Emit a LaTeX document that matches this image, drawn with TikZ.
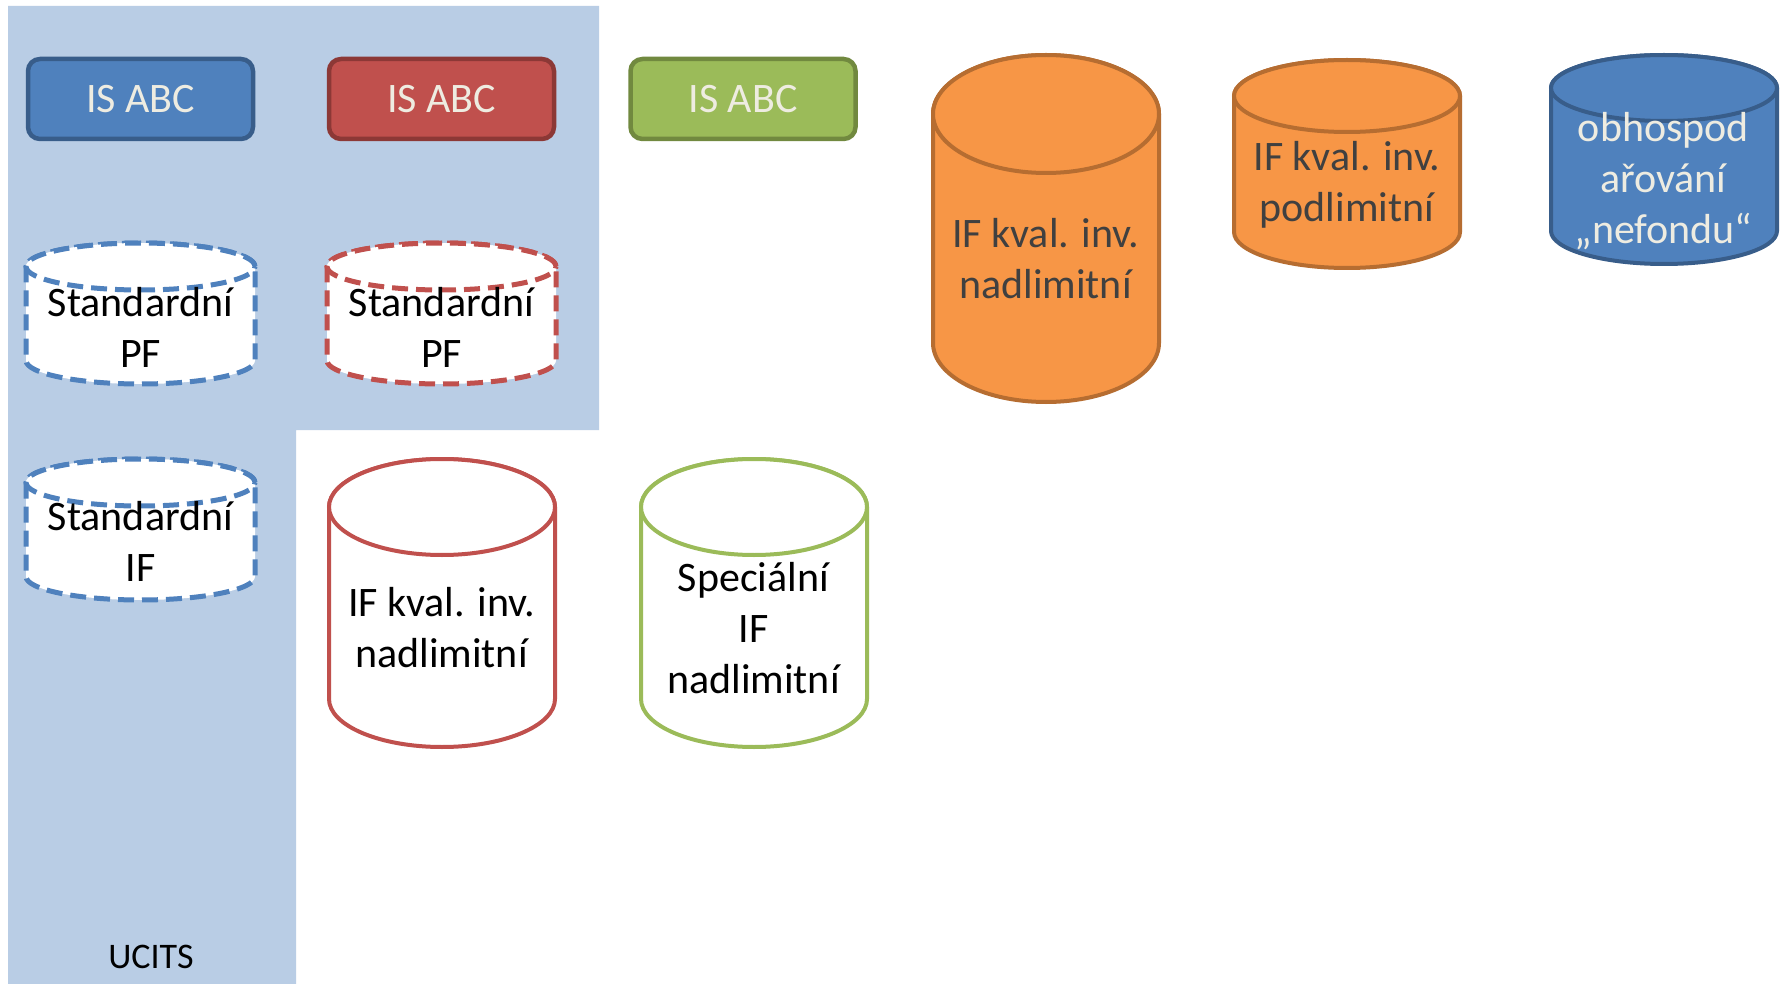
\documentclass[tikz,border=0pt]{standalone}
\usepackage{fontspec}
\setmainfont{Carlito}
\definecolor{bgblue}{HTML}{B9CDE5}
\definecolor{cblue}{HTML}{4F81BD}
\definecolor{cblueD}{HTML}{385D8A}
\definecolor{cred}{HTML}{C0504D}
\definecolor{credD}{HTML}{8C3836}
\definecolor{cgreen}{HTML}{9BBB59}
\definecolor{cgreenD}{HTML}{71893F}
\definecolor{corange}{HTML}{F79646}
\definecolor{corangeD}{HTML}{B66D31}
\definecolor{ctextlight}{HTML}{EEECE1}
\definecolor{ctextdark}{HTML}{404040}
\newcommand\mycyl[7]{%
 \pgfmathsetmacro\cyCX{(#3+#4)/2}\pgfmathsetmacro\cyRX{(#4-#3)/2}%
 \pgfmathsetmacro\cyYT{-(#5+#7)}\pgfmathsetmacro\cyYB{-(#6-#7)}%
 \draw[#2] (#3,\cyYT) -- (#3,\cyYB) arc[start angle=180,end angle=360,x radius=\cyRX pt,y radius=#7pt] -- (#4,\cyYT) arc[start angle=0,end angle=180,x radius=\cyRX pt,y radius=#7pt] -- cycle;
 \draw[#2] (\cyCX,\cyYT) ellipse[x radius=\cyRX pt,y radius=#7pt];
 \coordinate (#1) at (\cyCX,{-(#5+#6)/2});
}
\tikzset{
 isbox/.style={rounded corners=12pt, line width=4.5pt, minimum width=225pt, minimum height=80pt, inner sep=0pt,
   text=ctextlight, font=\fontsize{42}{51}\selectfont},
 dashcyl/.style={line width=5pt, dash pattern=on 16pt off 8pt, fill=white},
 solidcyl/.style={line width=4pt},
 lbl/.style={align=center, inner sep=0pt, font=\fontsize{42}{51}\selectfont},
}
\begin{document}
\begin{tikzpicture}[x=1pt,y=1pt]
\useasboundingbox[fill=white] (0,0) rectangle (1783,-984);
% background region
\fill[bgblue] (8,-6) -- (599,-6) -- (599,-430) -- (296,-430) -- (296,-984) -- (8,-984) -- cycle;
% IS ABC boxes
\node[isbox, draw=cblueD, fill=cblue] (isA) at (140.5,-99) {IS ABC};
\node[isbox, draw=credD, fill=cred] (isB) at (441.5,-99) {IS ABC};
\node[isbox, draw=cgreenD, fill=cgreen] (isC) at (743,-99) {IS ABC};
% dashed cylinders
\mycyl{pfA}{dashcyl, draw=cblue}{26}{255}{243}{384}{23.5}
\mycyl{pfB}{dashcyl, draw=cred}{327}{556}{243}{384}{23.5}
\mycyl{ifA}{dashcyl, draw=cblue}{26}{255}{459}{600}{23.5}
\node[lbl] (tpfA) at (140.5,-327) {Standardní\\PF};
\node[lbl] (tpfB) at (441.5,-327) {Standardní\\PF};
\node[lbl] (tifA) at (140.5,-541) {Standardní\\IF};
% solid cylinders
\mycyl{kvalR}{solidcyl, draw=cred, fill=white}{329}{555}{459}{747}{48}
\mycyl{specG}{solidcyl, draw=cgreen, fill=white}{641}{867}{459}{747}{48}
\node[lbl] (tkvalR) at (441.5,-628) {IF kval. inv.\\nadlimitní};
\node[lbl] (tspecG) at (753.5,-628) {Speciální\\IF\\nadlimitní};
\mycyl{kvalO}{solidcyl, draw=corangeD, fill=corange}{933}{1159}{55}{402}{59}
\mycyl{podO}{solidcyl, draw=corangeD, fill=corange}{1234}{1460}{60}{268}{36}
\mycyl{nefB}{solidcyl, draw=cblueD, fill=cblue}{1551}{1777}{55}{264}{33}
\node[lbl, text=ctextdark] (tkvalO) at (1045.5,-259) {IF kval. inv.\\nadlimitní};
\node[lbl, text=ctextdark] (tpodO) at (1347,-185) {IF kval. inv.\\podlimitní};
\node[lbl, text=ctextlight] (tnefB) at (1663.5,-181) {obhospod\\ařování\\„nefondu“};
% UCITS label
\node[inner sep=0pt, font=\fontsize{36}{44}\selectfont] (ucits) at (151,-957) {UCITS};
\end{tikzpicture}
\end{document}
